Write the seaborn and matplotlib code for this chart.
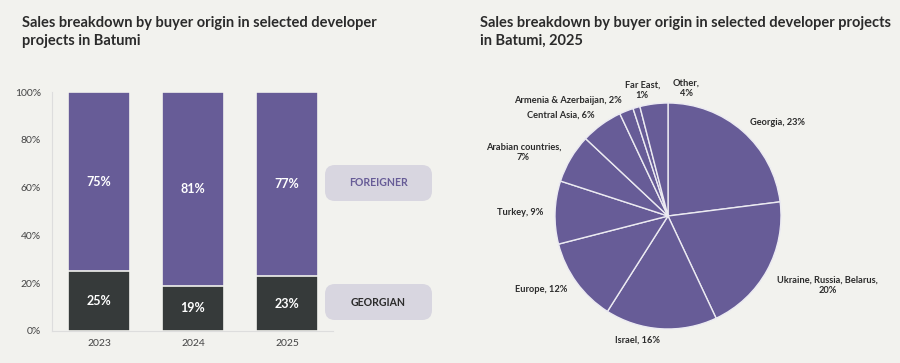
import matplotlib
matplotlib.use('Agg')
import matplotlib.pyplot as plt
from matplotlib.patches import FancyBboxPatch
from matplotlib.ticker import PercentFormatter
import seaborn as sns
import pandas as pd

# данные (левый график)
years = ['2023', '2024', '2025']
georgian = [25, 19, 23]
foreigner = [75, 81, 77]

# данные (правый график)
origins = ['Georgia, 23%', 'Ukraine, Russia, Belarus,\n20%', 'Israel, 16%', 'Europe, 12%',
           'Turkey, 9%', 'Arabian countries,\n7%', 'Central Asia, 6%',
           'Armenia & Azerbaijan, 2%', 'Far East,\n1%', 'Other,\n4%']
shares = [23, 20, 16, 12, 9, 7, 6, 2, 1, 4]

BG = '#f2f2ee'
PURPLE = '#675c97'
DARK = '#363a3a'
TEXT = '#2b2b2b'

sns.set_theme(style='white')
plt.rcParams['font.family'] = ['Lato', 'DejaVu Sans']

fig = plt.figure(figsize=(9, 3.63), dpi=100, facecolor=BG)

# --- столбцы ---
ax = fig.add_axes([52 / 900, 32 / 363, 281 / 900, 239 / 363])
ax.set_facecolor(BG)
df = pd.DataFrame({'year': years, 'georgian': georgian, 'foreigner': foreigner})
df['total'] = df['georgian'] + df['foreigner']

sns.barplot(data=df, x='year', y='total', color=PURPLE, width=0.66, saturation=1,
            edgecolor=BG, linewidth=1.2, ax=ax)
sns.barplot(data=df, x='year', y='georgian', color=DARK, width=0.66, saturation=1,
            edgecolor=BG, linewidth=1.2, ax=ax)

for i, row in df.iterrows():
    ax.text(i, row['georgian'] + row['foreigner'] / 2, f"{row['foreigner']}%", ha='center', va='center',
            color='white', fontsize=9, fontweight='bold')
    ax.text(i, row['georgian'] / 2, f"{row['georgian']}%", ha='center', va='center',
            color='white', fontsize=9, fontweight='bold')

ax.set_xlim(-0.5, 2.49)
ax.set_ylim(0, 100)
ax.set_yticks(range(0, 101, 20))
ax.yaxis.set_major_formatter(PercentFormatter(decimals=0))
ax.set_xlabel('')
ax.set_ylabel('')
ax.tick_params(axis='both', length=0, labelsize=7.5, labelcolor='#444444')
ax.tick_params(axis='y', pad=8)
ax.tick_params(axis='x', pad=6)
for s in ['top', 'right']:
    ax.spines[s].set_visible(False)
for s in ['left', 'bottom']:
    ax.spines[s].set_color('#dddddd')
    ax.spines[s].set_linewidth(0.8)

# плашки-легенда
asp = 900 / 363
for (y0, label, col) in [(162 / 363, 'FOREIGNER', PURPLE), (43 / 363, 'GEORGIAN', TEXT)]:
    box = FancyBboxPatch((325 / 900, y0), 107 / 900, 36 / 363, transform=fig.transFigure,
                         boxstyle='round,pad=0,rounding_size=0.011', mutation_aspect=asp,
                         facecolor='#d8d6e0', edgecolor='none')
    fig.patches.append(box)
    fig.text(378 / 900, y0 + 18 / 363, label, ha='center', va='center', fontsize=7.6,
             fontweight='bold', color=col)

fig.text(22 / 900, 1 - 32 / 363, 'Sales breakdown by buyer origin in selected developer\nprojects in Batumi',
         ha='left', va='center', fontsize=10.5, fontweight='bold', color=TEXT, linespacing=1.35)

# --- круговая ---
pax = fig.add_axes([(668 - 180.8) / 900, (147 - 146.9) / 363, 361.6 / 900, 293.8 / 363])
pax.set_facecolor(BG)
wedges, texts = pax.pie(shares, labels=origins, startangle=90, counterclock=False,
                        colors=[PURPLE] * len(shares), labeldistance=1.1,
                        wedgeprops=dict(edgecolor='#ecebf2', linewidth=1),
                        textprops=dict(fontsize=6.7, fontweight='bold', color=TEXT))
for t in texts:
    t.set_multialignment('center')
nudge = {'Far East,\n1%': (0.08, 0.06), 'Other,\n4%': (0.3, 0.04),
         'Ukraine, Russia, Belarus,\n20%': (0.0, -0.08)}
for t in texts:
    if t.get_text() in nudge:
        x, y = t.get_position()
        dx, dy = nudge[t.get_text()]
        t.set_position((x + dx, y + dy))
        if dx:
            t.set_ha('center')
pax.set_xlim(-1.6, 1.6)
pax.set_ylim(-1.3, 1.3)
pax.set_aspect('equal')
pax.axis('off')

fig.text(480 / 900, 1 - 32 / 363, 'Sales breakdown by buyer origin in selected developer projects\nin Batumi, 2025',
         ha='left', va='center', fontsize=10.5, fontweight='bold', color=TEXT, linespacing=1.35)

fig.savefig('out.png', dpi=100, facecolor=BG)
